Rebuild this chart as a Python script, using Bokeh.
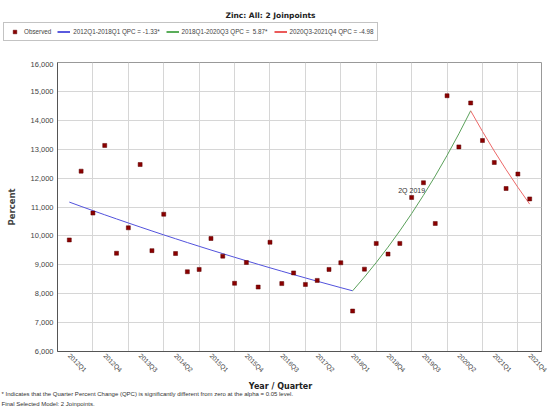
import math
from bokeh.plotting import figure
from bokeh.layouts import column
from bokeh.models import (ColumnDataSource, FixedTicker, NumeralTickFormatter,
                          Legend, LegendItem, Label, Range1d)
from bokeh.core.properties import value
from bokeh.embed import file_html
from bokeh.resources import INLINE

# quarters 2012Q1 .. 2021Q4
quarters = [f"{y}Q{q}" for y in range(2012, 2022) for q in range(1, 5)]

observed = [9860, 12240, 10790, 13130, 9400, 10280, 12470, 9490, 10750, 9390,
            8760, 8840, 9910, 9300, 8360, 9080, 8230, 9780, 8350, 8720,
            8320, 8460, 8840, 9070, 7400, 8850, 9740, 9370, 9740, 11330,
            11840, 10430, 14850, 13080, 14600, 13300, 12540, 11640, 12140, 11280]

# joinpoint model fitted values
fitted = [11170, 11021, 10875, 10730, 10588, 10447, 10308, 10171, 10035, 9902,
          9770, 9640, 9512, 9386, 9261, 9138, 9016, 8896, 8778, 8661,
          8546, 8432, 8320, 8209, 8100, 8576, 9079, 9612, 10176, 10773,
          11406, 12075, 12784, 13534, 14329, 13615, 12937, 12293, 11681, 11099]

segments = [(0, 24), (24, 34), (34, 39)]
segment_labels = ["2012Q1-2018Q1 QPC = -1.33*",
                  "2018Q1-2020Q3 QPC =  5.87*",
                  "2020Q3-2021Q4 QPC = -4.98"]
line_colors = ["#5252dc", "#5aa05a", "#ec6868"]
legend_colors = ["#0000cc", "#008000", "#e00000"]

annot_label = "2Q 2019"
annot_index = 29

title_text = "Zinc: All: 2 Joinpoints"
x_title = "Year / Quarter"
notes = ["* Indicates that the Quarter Percent Change (QPC) is significantly different from zero at the alpha = 0.05 level.",
         "Final Selected Model: 2 Joinpoints."]

x = list(range(len(quarters)))

W = 548
obs_style = dict(marker="square", size=4, fill_color="#8b0000", line_color="#5a0000", line_width=0.5)


def blank(h):
    f = figure(width=W, height=h, x_range=Range1d(0, 1), y_range=Range1d(0, 1),
               x_axis_type=None, y_axis_type=None, output_backend="svg", toolbar_location=None,
               min_border_left=0, min_border_right=0, min_border_top=0, min_border_bottom=0,
               frame_align=False)
    f.outline_line_color = None
    f.grid.visible = False
    return f


# ---- header: title + legend
head = blank(61)
head.add_layout(Label(x=270, y=46, x_units="screen", y_units="screen", text=title_text,
                      text_font="DejaVu Sans", text_font_style="bold", text_font_size="7.5px",
                      text_align="center", text_baseline="middle", text_color="#222222"))
# legend swatches: renderers kept outside the visible range of the header
items = [LegendItem(label="Observed", renderers=[head.scatter(x=[-5], y=[-5], **obs_style)])]
for lab, col in zip(segment_labels, legend_colors):
    r = head.line(x=[-5, -4], y=[-5, -5], line_color=col, line_width=1.3)
    items.append(LegendItem(label=lab, renderers=[r]))
legend = Legend(items=items, orientation="horizontal", location=(3, 20))
legend.label_text_font = "Liberation Sans"
legend.label_text_font_size = "6.3px"
legend.label_height = 9
legend.glyph_height = 9
legend.glyph_width = 13
legend.spacing = 6
legend.padding = 4
legend.margin = 0
legend.label_standoff = 3
legend.border_line_color = "#888888"
legend.background_fill_alpha = 1
head.add_layout(legend, "center")

# ---- main chart
p = figure(width=W, height=317, x_range=Range1d(-1, 40), y_range=Range1d(6000, 16000),
           output_backend="svg", toolbar_location=None, frame_align=False,
           min_border_left=57, min_border_right=7, min_border_top=1, min_border_bottom=26)
p.outline_line_color = "#999999"

p.xaxis.ticker = FixedTicker(ticks=list(range(0, 40, 3)))
p.xaxis.major_label_overrides = {i: quarters[i] for i in range(0, 40, 3)}
p.xaxis.major_label_orientation = -math.pi / 4
p.xgrid.ticker = FixedTicker(ticks=list(range(2, 40, 3)))
p.yaxis.ticker = FixedTicker(ticks=list(range(6000, 16001, 1000)))
p.yaxis.formatter = NumeralTickFormatter(format="0,0")
for ax in (p.xaxis, p.yaxis):
    ax.major_tick_line_color = None
    ax.minor_tick_line_color = None
    ax.major_tick_out = 0
    ax.minor_tick_out = 0
    ax.axis_line_color = "#555555"
    ax.major_label_text_font = "Liberation Sans"
    ax.major_label_text_color = "#444444"
p.xaxis.major_label_standoff = 3
p.yaxis.major_label_standoff = 4
p.xaxis.major_label_text_font_size = "6.5px"
p.yaxis.major_label_text_font_size = "7.5px"
p.yaxis.axis_label = "Percent"
p.yaxis.axis_label_text_font = "DejaVu Sans"
p.yaxis.axis_label_text_font_style = "bold"
p.yaxis.axis_label_text_font_size = "8.5px"
p.yaxis.axis_label_standoff = 11
p.grid.grid_line_color = "#d6d6d6"

for (a, b), col in zip(segments, line_colors):
    src = ColumnDataSource(data=dict(x=x[a:b + 1], y=fitted[a:b + 1]))
    p.line("x", "y", source=src, line_color=col, line_width=1)

obs_src = ColumnDataSource(data=dict(x=x, y=observed))
p.scatter("x", "y", source=obs_src, **obs_style)

p.text(x=[annot_index], y=[observed[annot_index]], text=[annot_label],
       text_font=value("Liberation Sans"), text_font_size="7px", text_color="#333333",
       text_align="center", text_baseline="bottom", y_offset=-3)

# ---- footer: axis title + notes
foot = blank(37)
foot.add_layout(Label(x=280, y=29, x_units="screen", y_units="screen", text=x_title,
                      text_font="DejaVu Sans", text_font_style="bold", text_font_size="8px",
                      text_align="center", text_baseline="middle", text_color="#222222"))
for i, note in enumerate(notes):
    foot.add_layout(Label(x=1, y=22 - 10 * i, x_units="screen", y_units="screen", text=note,
                          text_font="Liberation Sans", text_font_size="6px",
                          text_align="left", text_baseline="middle", text_color="#333333"))

layout = column(head, p, foot, spacing=0)
open("out.html", "w").write(file_html(layout, INLINE))
